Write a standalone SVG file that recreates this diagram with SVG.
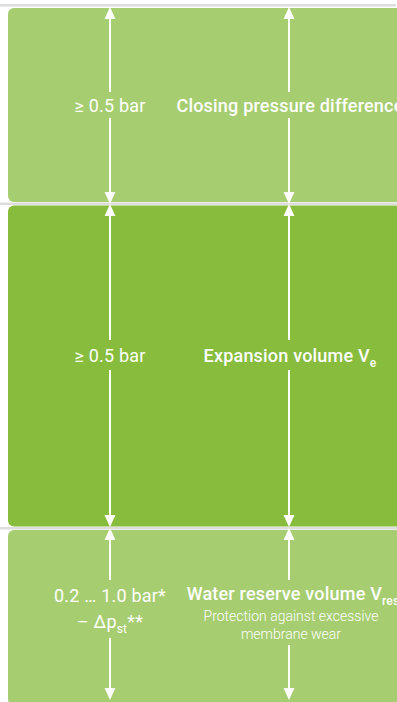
<svg xmlns="http://www.w3.org/2000/svg" width="397" height="702" viewBox="0 0 397 702">
<style>
.sep{fill:#dddddd}
.light{fill:#a6cd70}
.dark{fill:#87bc3d}
.t{font-family:Roboto,"Liberation Sans",sans-serif;fill:#ffffff;font-size:18px;text-anchor:middle;letter-spacing:0.2px}
.b{font-weight:500}
.s{font-size:14px;font-weight:300;letter-spacing:0}
.c{stroke:#ffffff;stroke-width:2;fill:none}
</style>
<defs>
<marker id="ah" markerUnits="userSpaceOnUse" markerWidth="12" markerHeight="12" viewBox="0 0 11 10" refX="0" refY="5" orient="auto-start-reverse">
<path d="M0,0 L11,5 L0,10 z" fill="#ffffff"/>
</marker>
</defs>
<rect width="397" height="702" fill="#ffffff"/>
<rect class="sep" x="0" y="4" width="396" height="2.5"/>
<rect class="sep" x="0" y="202.5" width="397" height="2.5"/>
<rect class="sep" x="0" y="527" width="397" height="2.5"/>
<g id="closing">
<rect class="light" x="8" y="8" width="400" height="194" rx="6"/>
<text class="t" x="110" y="112">≥ 0.5 bar</text>
<text class="t b" x="290" y="112">Closing pressure difference</text>
</g>
<g id="expansion">
<rect class="dark" x="8" y="205.5" width="400" height="321" rx="6"/>
<text class="t" x="110" y="362">≥ 0.5 bar</text>
<text class="t b" x="290" y="362">Expansion volume V<tspan font-size="12" dy="5">e</tspan></text>
</g>
<g id="reserve">
<rect class="light" x="8" y="530" width="400" height="175" rx="6"/>
<text class="t" x="110" y="602">0.2 … 1.0 bar*</text>
<text class="t" x="110" y="628">– Δp<tspan font-size="12" dy="5">st</tspan><tspan dy="-5">**</tspan></text>
<text class="t b" x="293" y="600">Water reserve volume V<tspan font-size="12" dy="5">res</tspan></text>
<text class="t s" x="291" y="621">Protection against excessive</text>
<text class="t s" x="291" y="639">membrane wear</text>
</g>
<g id="connectors">
<line class="c" x1="110" y1="19" x2="110" y2="92" marker-start="url(#ah)"/>
<line class="c" x1="110" y1="118" x2="110" y2="192" marker-end="url(#ah)"/>
<line class="c" x1="289" y1="19" x2="289" y2="92" marker-start="url(#ah)"/>
<line class="c" x1="289" y1="118" x2="289" y2="192" marker-end="url(#ah)"/>
<line class="c" x1="110" y1="216" x2="110" y2="340" marker-start="url(#ah)"/>
<line class="c" x1="110" y1="370" x2="110" y2="515" marker-end="url(#ah)"/>
<line class="c" x1="289" y1="216" x2="289" y2="340" marker-start="url(#ah)"/>
<line class="c" x1="289" y1="370" x2="289" y2="515" marker-end="url(#ah)"/>
<line class="c" x1="110" y1="540" x2="110" y2="580" marker-start="url(#ah)"/>
<line class="c" x1="110" y1="638" x2="110" y2="688" marker-end="url(#ah)"/>
<line class="c" x1="289" y1="540" x2="289" y2="580" marker-start="url(#ah)"/>
<line class="c" x1="289" y1="645" x2="289" y2="688" marker-end="url(#ah)"/>
</g>
</svg>
